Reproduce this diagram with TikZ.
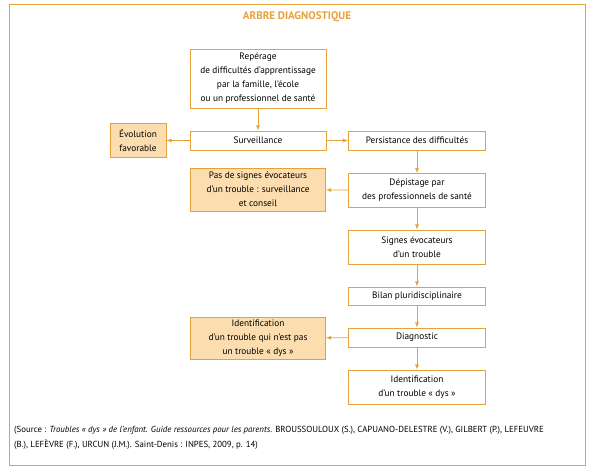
\documentclass[tikz,border=0pt]{standalone}
\usepackage{fontspec}
\setmainfont{PT Sans}
\usetikzlibrary{arrows}
\definecolor{dysorange}{HTML}{E6A23A}
\definecolor{dysfill}{HTML}{FCDDB0}
\tikzset{>=latex}
\tikzset{
  etape/.style = {
    draw=dysorange, line width=0.8pt, fill=white, text=black,
    align=center, inner sep=0pt, minimum width=137pt,
    font=\fontsize{9.3}{14}\selectfont
  },
  issue/.style = {etape, fill=dysfill},
  fleche/.style = {->, dysorange, line width=0.8pt}
}

\begin{document}
\begin{tikzpicture}[x=1pt,y=-1pt]
  \useasboundingbox (0,0) rectangle (592,470);
  \draw[dysorange, line width=0.8pt] (9,4) rectangle (585,465);
  \node[text=dysorange, font=\bfseries\fontsize{11}{13}\selectfont] (titre) at (297,17) {ARBRE DIAGNOSTIQUE};
  % colonne de gauche
  \node[etape, minimum width=136pt, minimum height=59pt] (repere) at (258,78.5)
    {Repérage\\de difficultés d’apprentissage\\par la famille, l’école\\ou un professionnel de santé};
  \node[etape, minimum width=136pt, minimum height=19pt] (surv) at (258,140.5) {Surveillance};
  \node[issue, minimum width=56pt, minimum height=34pt] (evol) at (138,140.5) {Évolution\\favorable};
  \node[issue, minimum width=135pt, minimum height=43pt] (pas) at (258,189.5)
    {Pas de signes évocateurs\\d’un trouble : surveillance\\et conseil};
  \node[issue, minimum width=135pt, minimum height=42pt] (ident) at (258,338)
    {Identification\\d’un trouble qui n’est pas\\un trouble « dys »};
  % colonne de droite
  \node[etape, minimum height=19pt] (persist) at (417,140.5) {Persistance des difficultés};
  \node[etape, minimum height=34pt] (depist) at (417,190.5) {Dépistage par\\des professionnels de santé};
  \node[etape, minimum height=34pt] (signes) at (417,247) {Signes évocateurs\\d’un trouble};
  \node[etape, minimum height=18pt] (bilan) at (417,296) {Bilan pluridisciplinaire};
  \node[etape, minimum height=19pt] (diag) at (417,337.5) {Diagnostic};
  \node[etape, minimum height=34pt] (identdys) at (417,387) {Identification\\d’un trouble « dys »};
  % fleches
  \draw[fleche] (repere) -- (surv);
  \draw[fleche] (surv) -- (evol);
  \draw[fleche] (surv) -- (persist);
  \draw[fleche] (persist) -- (depist);
  \draw[fleche] (depist) -- (pas);
  \draw[fleche] (depist) -- (signes);
  \draw[fleche] (signes) -- (bilan);
  \draw[fleche] (bilan) -- (diag);
  \draw[fleche] (diag) -- (ident);
  \draw[fleche] (diag) -- (identdys);
  % source
  \node[anchor=north west, align=left, inner sep=0pt, text=black,
        font=\fontsize{8.8}{15}\selectfont] (source) at (14,426)
    {(Source : \textit{Troubles « dys » de l’enfant. Guide ressources pour les parents}. BROUSSOULOUX (S.), CAPUANO-DELESTRE (V.), GILBERT (P.), LEFEUVRE\\
     (B.), LEFÈVRE (F.), URCUN (J.M.). Saint-Denis : INPES, 2009, p. 14)};
\end{tikzpicture}
\end{document}
